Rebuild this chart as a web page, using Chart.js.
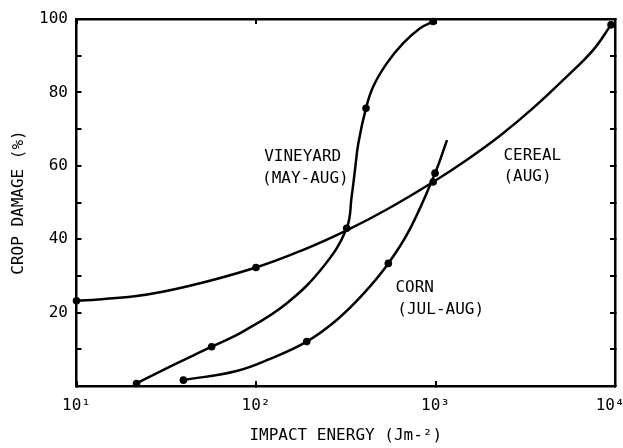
<!DOCTYPE html>
<html>
<head>
<meta charset="utf-8">
<script src="https://cdn.jsdelivr.net/npm/chart.js@4/dist/chart.umd.min.js"></script>
<style>
  html, body { margin: 0; padding: 0; background: #ffffff; }
  #wrap { width: 623px; height: 448px; }
</style>
</head>
<body>
<div id="wrap"><canvas id="c" width="623" height="448"></canvas></div>
<script>
// Impact energy (J m^-2) against crop damage (%) for three crops.
// "Marked" flags say which readings carry a dot; the others only shape the curve.
const vineyardEnergy = [21.6, 33.2, 56.6, 85, 148, 237, 320, 341, 356, 371.5, 410, 450, 535, 661, 820, 970];
const vineyardDamage = [0.7, 5.3, 10.7, 14.9, 22.5, 32.5, 43.0, 51.6, 58.9, 66.1, 75.7, 81.6, 87.9, 93.4, 97.5, 99.3];
const vineyardMarked = [1, 0, 1, 0, 0, 0, 1, 0, 0, 0, 1, 0, 0, 0, 0, 1];

const cerealEnergy = [10, 21.6, 41.1, 100, 183.4, 320, 535, 970, 1492, 2287, 3493, 5381, 7571, 9500];
const cerealDamage = [23.2, 24.5, 27.1, 32.3, 37.1, 42.4, 48.1, 55.6, 61.6, 68.2, 75.7, 84.3, 91.6, 98.4];
const cerealMarked = [1, 0, 0, 1, 0, 0, 0, 1, 0, 0, 0, 0, 0, 1];

const cornEnergy = [39.4, 78.1, 119.7, 191.7, 281.6, 396.1, 546, 721, 994, 1159];
const cornDamage = [1.6, 4.1, 7.4, 12.1, 18.0, 25.1, 33.4, 42.8, 58.0, 67.0];
const cornMarked = [1, 0, 0, 1, 0, 0, 1, 0, 1, 0];

// Axis ticks
const energyTicks = [10, 100, 1000, 10000];
const energyLabels = ['10\u00B9', '10\u00B2', '10\u00B3', '10\u2074 '];
const damageLabels = ['20', '40', '60', '80', '100'];

const FONT = "'DejaVu Sans Mono', monospace";

function pairs(xs, ys) {
  return xs.map((x, i) => ({ x: x, y: ys[i] }));
}

function curve(label, xs, ys, marked) {
  return {
    label: label,
    data: pairs(xs, ys),
    borderColor: '#000',
    borderWidth: 2.5,
    backgroundColor: '#000',
    pointBackgroundColor: '#000',
    pointBorderWidth: 0,
    pointRadius: marked.map(m => (m ? 3.8 : 0)),
    cubicInterpolationMode: 'default',
    tension: 0.4,
    fill: false,
    clip: false
  };
}

// Text beside each curve, anchored in data space
const curveNotes = [
  { text: 'VINEYARD', x: 111, y: 62.4 },
  { text: '(MAY-AUG)', x: 108, y: 56.4 },
  { text: 'CEREAL', x: 2390, y: 62.7 },
  { text: '(AUG)', x: 2390, y: 56.9 },
  { text: 'CORN', x: 598, y: 26.7 },
  { text: '(JUL-AUG)', x: 613, y: 20.7 }
];

const notesPlugin = {
  id: 'curveNotes',
  afterDatasetsDraw(chart) {
    const ctx = chart.ctx;
    const sx = chart.scales.x, sy = chart.scales.y;
    ctx.save();
    ctx.fillStyle = '#000';
    ctx.font = '16px ' + FONT;
    ctx.textAlign = 'left';
    ctx.textBaseline = 'middle';
    curveNotes.forEach(n => {
      ctx.fillText(n.text, sx.getPixelForValue(n.x), sy.getPixelForValue(n.y));
    });
    ctx.restore();
  }
};

const inwardGrid = {
  display: true,
  drawOnChartArea: false,
  drawTicks: true,
  tickLength: -5,
  lineWidth: 2,
  color: '#000'
};
const frame = { display: true, width: 2.5, color: '#000' };

function decadeTicks(scale) {
  scale.ticks = energyTicks.map(v => ({ value: v }));
}

// Fixed box sizes so the plot frame sits where it should
function fixBox(size) {
  return function (s) {
    if (s.isHorizontal()) s.height = size; else s.width = size;
    s.paddingLeft = 0; s.paddingRight = 0; s.paddingTop = 0; s.paddingBottom = 0;
  };
}

new Chart(document.getElementById('c'), {
  type: 'line',
  data: {
    datasets: [
      curve('Vineyard (May-Aug)', vineyardEnergy, vineyardDamage, vineyardMarked),
      curve('Cereal (Aug)', cerealEnergy, cerealDamage, cerealMarked),
      curve('Corn (Jul-Aug)', cornEnergy, cornDamage, cornMarked)
    ]
  },
  options: {
    responsive: false,
    devicePixelRatio: 1,
    animation: false,
    events: [],
    layout: { padding: { top: 19, right: 8, left: 0, bottom: 0 } },
    plugins: {
      legend: { display: false },
      tooltip: { enabled: false }
    },
    scales: {
      x: {
        type: 'logarithmic',
        position: 'bottom',
        min: 10,
        max: 10000,
        afterBuildTicks: decadeTicks,
        afterFit: fixBox(62),
        border: frame,
        grid: inwardGrid,
        ticks: {
          autoSkip: false,
          maxRotation: 0,
          padding: 15,
          color: '#000',
          font: { family: FONT, size: 16 },
          callback: (v) => energyLabels[energyTicks.indexOf(v)]
        },
        title: {
          display: true,
          text: 'IMPACT ENERGY (Jm-\u00B2)',
          color: '#000',
          font: { family: FONT, size: 16 },
          padding: { top: 0, bottom: 2.4 }
        }
      },
      xTop: {
        type: 'logarithmic',
        position: 'top',
        min: 10,
        max: 10000,
        afterBuildTicks: decadeTicks,
        afterFit: fixBox(0),
        border: frame,
        grid: inwardGrid,
        ticks: { display: false }
      },
      y: {
        type: 'linear',
        position: 'left',
        min: 0,
        max: 100,
        afterFit: fixBox(76.5),
        border: frame,
        grid: inwardGrid,
        ticks: {
          stepSize: 10,
          padding: 13.5,
          color: '#000',
          font: { family: FONT, size: 16 },
          callback: (v) => (damageLabels.includes(String(v)) ? String(v) : '')
        },
        title: {
          display: true,
          text: 'CROP DAMAGE (%)',
          color: '#000',
          font: { family: FONT, size: 16 },
          padding: { top: 9.4, bottom: 0 }
        }
      },
      yRight: {
        type: 'linear',
        position: 'right',
        min: 0,
        max: 100,
        afterFit: fixBox(0),
        border: frame,
        grid: inwardGrid,
        ticks: { display: false, stepSize: 10 }
      }
    }
  },
  plugins: [notesPlugin]
});
</script>
</body>
</html>
